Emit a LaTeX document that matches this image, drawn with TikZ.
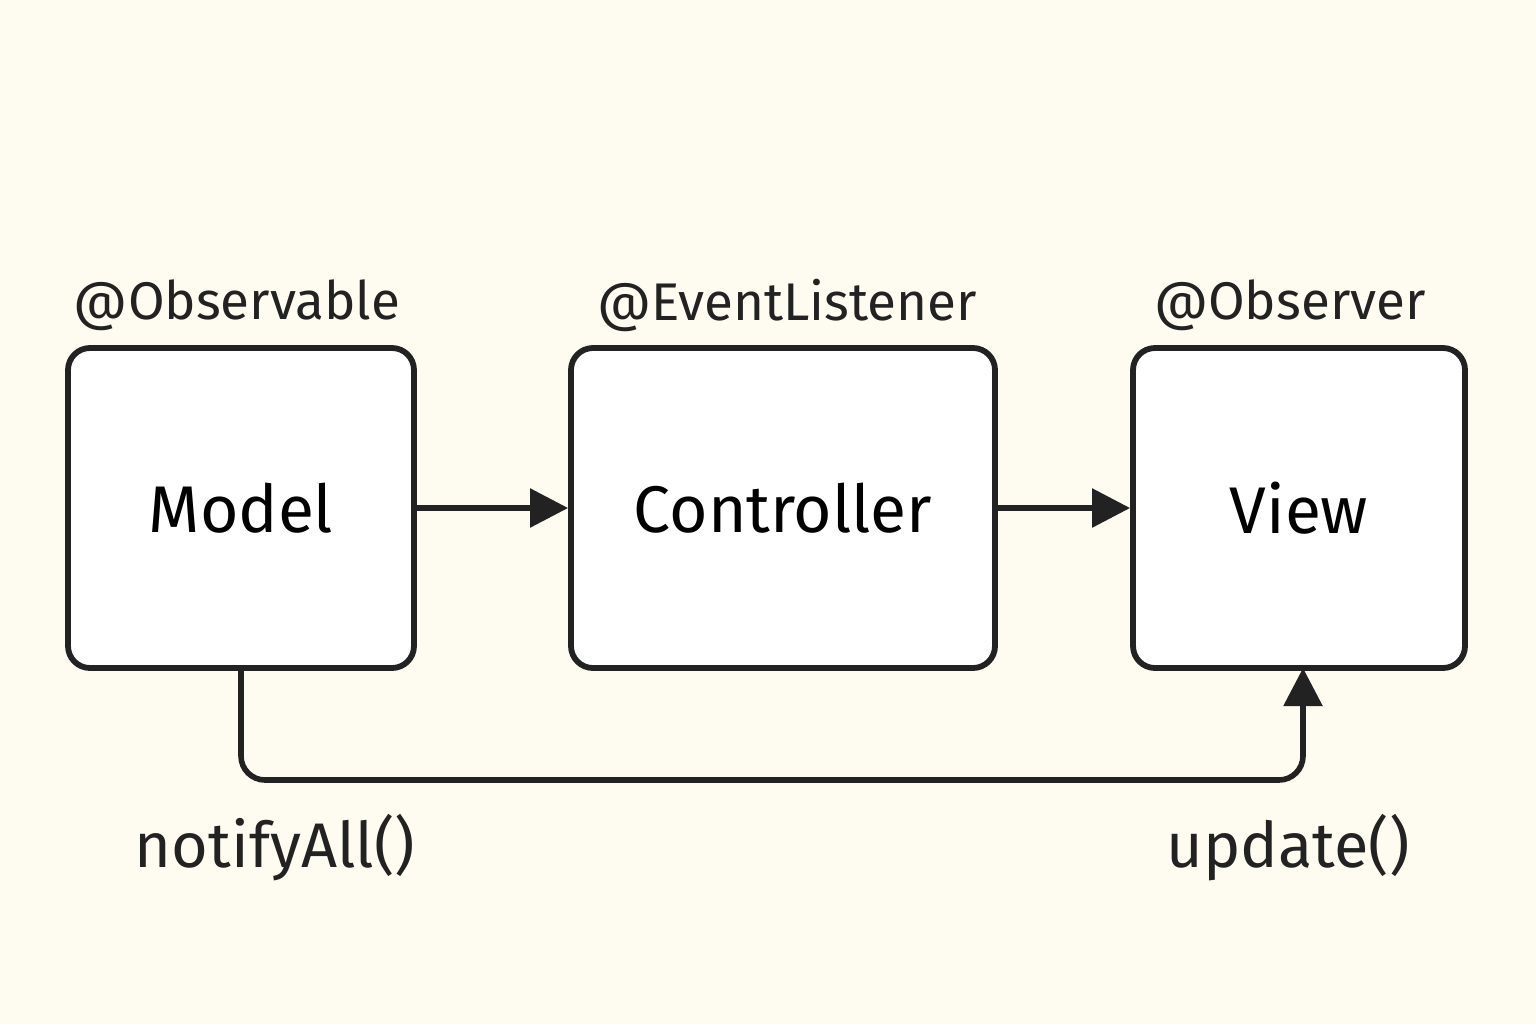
\documentclass[tikz,border=0pt]{standalone}
\usepackage{fontspec}
\setmainfont{Fira Sans}
\usetikzlibrary{arrows.meta}
\definecolor{paper}{HTML}{FEFCF0}
\definecolor{ink}{HTML}{222222}

\begin{document}
\begin{tikzpicture}[x=0.5pt,y=-0.5pt,
	box/.style={draw=ink, fill=white, line width=2.9pt, rounded corners=11pt, inner sep=0pt, font=\fontsize{33}{38}\selectfont},
	link/.style={draw=ink, line width=2.8pt, -{Triangle[length=19pt,width=19pt]}},
	tag/.style={text=ink, font=\fontsize{26.5}{30}\selectfont},
	call/.style={text=ink, font=\fontsize{31.5}{36}\selectfont}]
			\fill[paper] (0,0) rectangle (1536,1024);
			\useasboundingbox (0,0) rectangle (1536,1024);
			\node[box, minimum width=173pt, minimum height=160pt] (model) at (241,508) {Model};
			\node[box, minimum width=212pt, minimum height=160pt] (ctrl) at (783,508) {Controller};
			\node[box, minimum width=166pt, minimum height=160pt] (view) at (1299,508) {View};
			\node[tag] (obsable) at (237,305) {@Observable};
			\node[tag] (listener) at (787,305) {@EventListener};
			\node[tag] (obsver) at (1290,305) {@Observer};
			\draw[link] (model.east) -- (ctrl.west);
			\draw[link] (ctrl.east) -- (view.west);
			\coordinate (viewfoot) at (1303,668);
			\draw[link, rounded corners=12pt] (model.south) -- (241,780) -- (1303,780) -- (viewfoot);
			\node[call] (notify) at (275,848) {notifyAll()};
			\node[call] (update) at (1288,848) {update()};
		\end{tikzpicture}
\end{document}
